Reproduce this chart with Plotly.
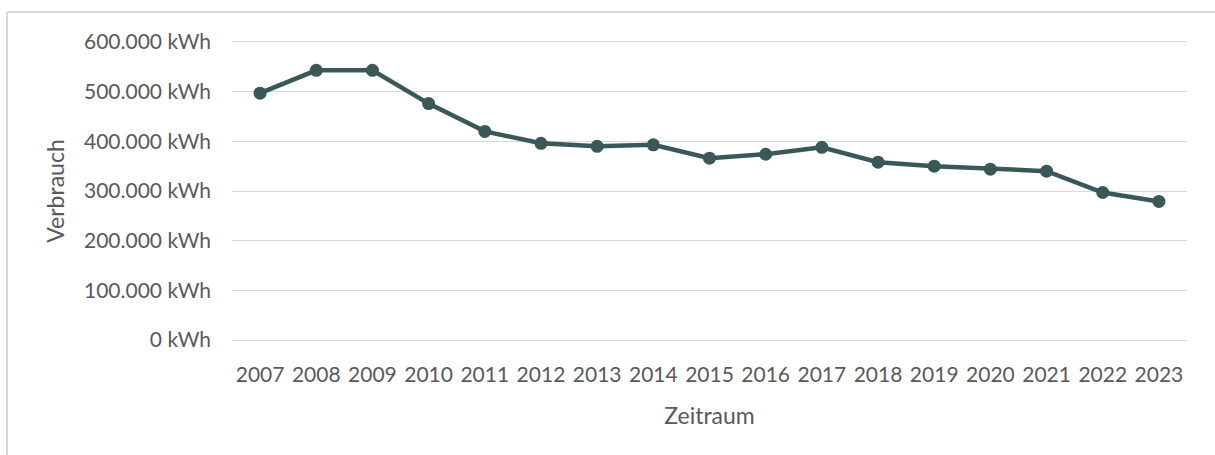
import plotly.graph_objects as go

years = ["2007", "2008", "2009", "2010", "2011", "2012", "2013", "2014", "2015",
         "2016", "2017", "2018", "2019", "2020", "2021", "2022", "2023"]
verbrauch = [497000, 543000, 543000, 476000, 420000, 396000, 390000, 393000, 366000,
             374000, 388000, 358000, 350000, 344000, 340000, 297000, 279000]
y_ticks = [0, 100000, 200000, 300000, 400000, 500000, 600000]
y_labels = ["0 kWh", "100.000 kWh", "200.000 kWh", "300.000 kWh", "400.000 kWh",
            "500.000 kWh", "600.000 kWh"]

W, H = 1215, 455
ML, MR, MT, MB = 232, 28, 40, 113
pw, ph = W - ML - MR, H - MT - MB

line_color = "#3B5858"
text_color = "#595959"
font_family = "Lato, 'Open Sans', sans-serif"

fig = go.Figure(go.Scatter(
    x=years, y=verbrauch, mode="lines+markers",
    line=dict(color=line_color, width=4.5),
    marker=dict(color=line_color, size=13),
    showlegend=False,
))

# outer frame (top and left edges visible)
bx = (7 - ML) / pw
by = 1 + (MT - 12) / ph
fig.add_shape(type="line", xref="paper", yref="paper", x0=bx, x1=(W - ML) / pw + 0.01,
              y0=by, y1=by, line=dict(color="#D9D9D9", width=2))
fig.add_shape(type="line", xref="paper", yref="paper", x0=bx, x1=bx,
              y0=by, y1=-(MB + 5) / ph, line=dict(color="#D9D9D9", width=2))

fig.update_layout(
    width=W, height=H,
    margin=dict(l=ML, r=MR, t=MT, b=MB, autoexpand=False),
    paper_bgcolor="white", plot_bgcolor="white",
    font=dict(family=font_family, color=text_color, size=21),
    xaxis=dict(
        type="category", showgrid=False, zeroline=False, showline=False,
        ticks="", tickfont=dict(size=21, color=text_color),
        ticklabelstandoff=18,
        title=dict(text="Zeitraum", font=dict(size=23, color=text_color), standoff=22),
        range=[-0.5, len(years) - 0.5],
    ),
    yaxis=dict(
        range=[-4000, 604000], tickvals=y_ticks, ticktext=y_labels,
        showgrid=True, gridcolor="#D9D9D9", gridwidth=1.3,
        zeroline=False, showline=False, ticks="",
        ticklabelstandoff=20,
        tickfont=dict(size=21, color=text_color),
        title=dict(text="Verbrauch", font=dict(size=23, color=text_color), standoff=12),
    ),
)

fig.write_html("out.html", config={"displayModeBar": False},
               post_script="document.body.style.margin='0';document.body.style.overflow='hidden';")
